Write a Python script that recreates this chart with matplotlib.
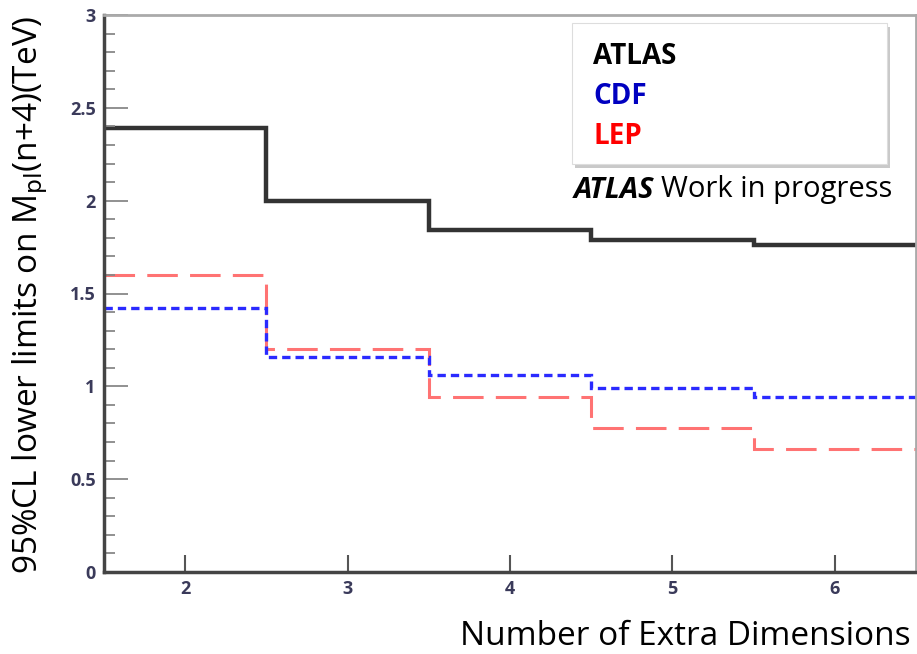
import numpy as np
import matplotlib.pyplot as plt
from matplotlib.ticker import MultipleLocator, FormatStrFormatter
import matplotlib.patheffects as pe

# number of extra dimensions (bin edges around n = 2..6)
n_dims = [2, 3, 4, 5, 6]
edges = [1.5, 2.5, 3.5, 4.5, 5.5, 6.5]

atlas = [2.39, 2.00, 1.84, 1.79, 1.76]
cdf = [1.42, 1.16, 1.06, 0.99, 0.94]
lep = [1.60, 1.20, 0.94, 0.775, 0.66]

plt.rcParams['font.family'] = ['Open Sans', 'DejaVu Sans']

fig = plt.figure(figsize=(9.17, 6.54), dpi=100)
ax = fig.add_axes([104/917, 82/654, 812/917, 557/654])

ax.stairs(lep, edges, baseline=None, color='#ff5a5a', lw=2.2, ls=(0, (10, 4)), alpha=0.85)
ax.stairs(cdf, edges, baseline=None, color='#2a2aff', lw=2.4, ls=(0, (2.5, 1.5)))
ax.stairs(atlas, edges, baseline=None, color='#333333', lw=3.2)

ax.set_xlim(1.5, 6.5)
ax.set_ylim(0, 3)
ax.set_xticks(n_dims)
ax.yaxis.set_major_locator(MultipleLocator(0.5))
ax.yaxis.set_minor_locator(MultipleLocator(0.1))
ax.yaxis.set_major_formatter(FormatStrFormatter('%g'))

ax.tick_params(axis='y', which='major', direction='in', length=17, width=1.3, color='#888888')
ax.tick_params(axis='y', which='minor', direction='in', length=8, width=1.3, color='#888888')
ax.tick_params(axis='x', which='major', direction='in', length=12, width=1.5, color='#555555')
ax.tick_params(labelsize=13, labelcolor='#3a3a5a', pad=6)
for lab in ax.get_xticklabels() + ax.get_yticklabels():
    lab.set_fontweight('bold')

for side in ['left', 'bottom']:
    ax.spines[side].set_color('#444444')
    ax.spines[side].set_linewidth(2.5)
for side in ['top', 'right']:
    ax.spines[side].set_color('#aaaaaa')
    ax.spines[side].set_linewidth(2)

fig.text(0.033, 0.549, r'95%CL lower limits on M$_{\mathrm{pl}}$(n+4)(TeV)', rotation=90,
         fontsize=24, va='center', ha='center')
fig.text(0.993, 0.027, 'Number of Extra Dimensions', fontsize=24, ha='right', va='center')

# legend box drawn as text
box = plt.Rectangle((572/917, 1 - 164/654), 315/917, 141/654, transform=fig.transFigure,
                    facecolor='white', edgecolor='#dddddd', lw=0.8, zorder=5,
                    path_effects=[pe.SimplePatchShadow(offset=(2, -3), alpha=0.3), pe.Normal()])
fig.add_artist(box)
fig.text(593/917, 1 - 56/654, 'ATLAS', fontsize=20, fontweight='bold', color='black', va='center', zorder=6)
fig.text(593/917, 1 - 96/654, 'CDF', fontsize=20, fontweight='bold', color='#0000c0', va='center', zorder=6)
fig.text(593/917, 1 - 136/654, 'LEP', fontsize=20, fontweight='bold', color='red', va='center', zorder=6)

t1 = fig.text(574/917, 1 - 190/654, 'ATLAS', fontsize=21, fontweight='bold', style='italic', va='center')
fig.draw_without_rendering()
ax.annotate('Work in progress', xy=(1, 0.5), xycoords=t1, xytext=(5, 0), textcoords='offset points',
            fontsize=21, va='center', annotation_clip=False)

fig.savefig('out.png', dpi=100)
